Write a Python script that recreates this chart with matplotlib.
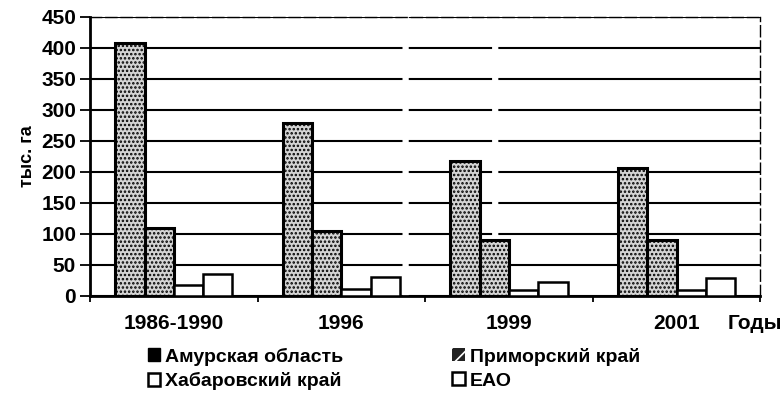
import matplotlib
matplotlib.use("Agg")
import matplotlib.pyplot as plt
import numpy as np
from matplotlib.patches import Patch

plt.rcParams['font.family'] = ['Liberation Sans', 'DejaVu Sans']
plt.rcParams['font.weight'] = 'bold'
plt.rcParams['hatch.linewidth'] = 1.2

years = ["1986-1990", "1996", "1999", "2001"]
amur = [408, 279, 218, 206]
primorsky = [110, 105, 90, 90]
khabarovsk = [18, 11, 10, 10]
eao = [35, 31, 22, 29]
series_names = ["Амурская область", "Приморский край", "Хабаровский край", "ЕАО"]

fig = plt.figure(figsize=(7.83, 4.12), dpi=100)
ax = fig.add_axes([0.115, 0.282, 0.856, 0.677])

x = np.arange(len(years))
w = 0.175
stip = dict(facecolor="#d4d4d4", edgecolor="black", hatch="....", linewidth=2.2)
plain = dict(facecolor="white", edgecolor="black", linewidth=1.8)

ax.bar(x - 1.5 * w, amur, w, zorder=3, **stip)
ax.bar(x - 0.5 * w, primorsky, w, zorder=3, **stip)
ax.bar(x + 0.5 * w, khabarovsk, w, zorder=3, **plain)
ax.bar(x + 1.5 * w, eao, w, zorder=3, **plain)

ax.set_ylim(0, 450)
ax.set_yticks(np.arange(0, 451, 50))
ax.set_xlim(-0.47, 3.36)
ax.set_xticks(x)
ax.set_xticklabels(years)
ax.set_xticks(np.arange(-0.5, 3.6, 1), minor=True)
ax.tick_params(axis="x", which="major", length=0, pad=13, labelsize=15)
ax.tick_params(axis="x", which="minor", length=4, width=1.3)
ax.tick_params(axis="y", length=7, width=1.3, labelsize=15, pad=3)

ax.yaxis.grid(True, color="black", linewidth=1.5, linestyle=(0, (150, 3, 40, 3)))
ax.set_axisbelow(True)
for s in ["left", "bottom"]:
    ax.spines[s].set_linewidth(2.0)
for s in ["top", "right"]:
    ax.spines[s].set_linewidth(1.0)
    ax.spines[s].set_linestyle((0, (8, 3)))

ax.set_ylabel("тыс. га", fontsize=13, fontweight="bold", labelpad=4)
ax.text(0.992, -0.064, "Годы", transform=ax.transAxes, ha="center", va="top", fontsize=15)

handles = [
    Patch(facecolor="black", edgecolor="black"),
    Patch(facecolor="white", edgecolor="black", linewidth=1.8),
    Patch(facecolor="#222222", edgecolor="white", hatch="//", linewidth=0),
    Patch(facecolor="white", edgecolor="black", linewidth=1.8),
]
labels = [series_names[0], series_names[2], series_names[1], series_names[3]]
fig.legend(handles, labels, ncol=2, loc="upper left", bbox_to_anchor=(0.176, 0.18),
           frameon=False, fontsize=14, handlelength=0.65, handleheight=0.65,
           handletextpad=0.25, columnspacing=5.6, labelspacing=0.35, borderpad=0)

fig.savefig("out.png", dpi=100)
